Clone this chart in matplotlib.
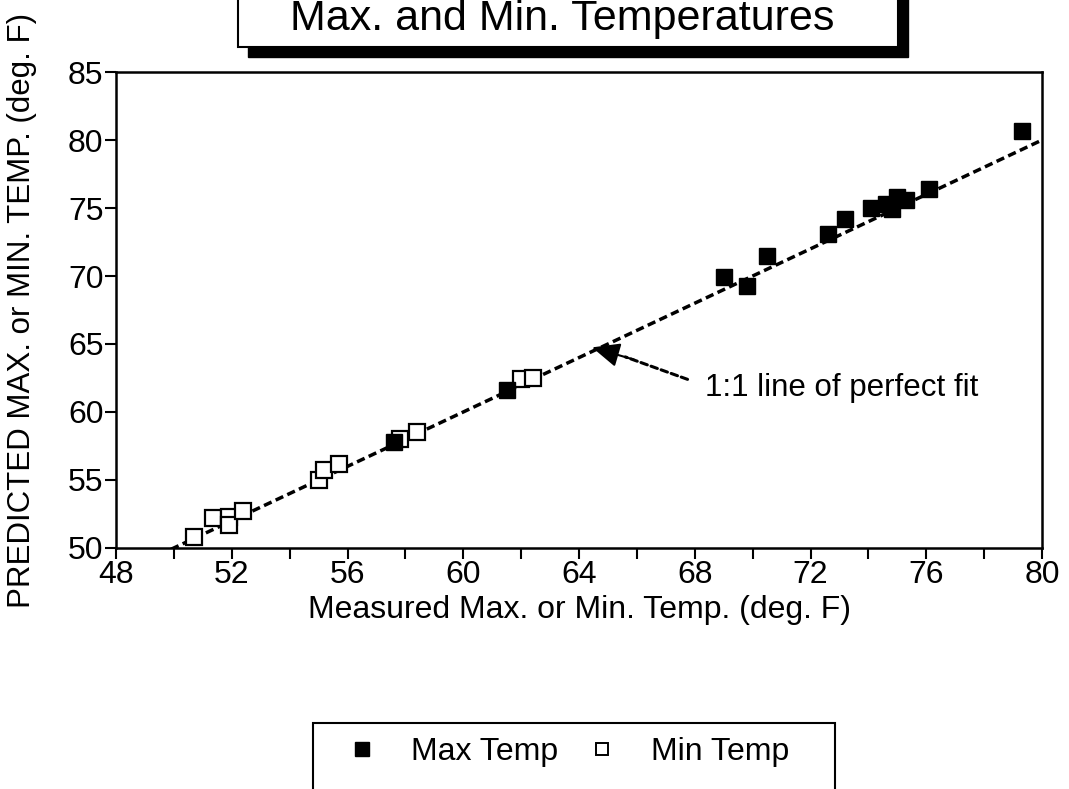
import matplotlib
matplotlib.use("Agg")
import matplotlib.pyplot as plt
from matplotlib.lines import Line2D
from matplotlib.patches import Rectangle

plt.rcParams['font.family'] = ['Liberation Sans', 'DejaVu Sans']

# Measured vs predicted (deg F)
max_measured = [57.6, 61.5, 69.0, 69.8, 70.5, 72.6, 73.2, 74.1, 74.6, 74.8, 75.0, 75.3, 76.1, 79.3]
max_predicted = [57.8, 61.6, 69.9, 69.3, 71.5, 73.1, 74.2, 75.0, 75.3, 74.9, 75.8, 75.6, 76.4, 80.7]

min_measured = [50.7, 51.35, 51.9, 51.9, 52.4, 55.0, 55.2, 55.7, 57.8, 58.4, 62.0, 62.4]
min_predicted = [50.8, 52.2, 52.3, 51.7, 52.7, 55.0, 55.7, 56.2, 58.0, 58.5, 62.4, 62.5]

perfect_fit = [49.5, 80.0]

x_ticks = [48, 52, 56, 60, 64, 68, 72, 76, 80]
y_ticks = [50, 55, 60, 65, 70, 75, 80, 85]

fig = plt.figure(figsize=(10.69, 7.89), dpi=100)
ax = fig.add_axes([0.1085, 0.3055, 0.8663, 0.6032])

# 1:1 line
ax.plot(perfect_fit, perfect_fit, color='black', lw=2.5, linestyle=(0, (2.4, 1.3)), zorder=2)

ax.plot(min_measured, min_predicted, 's', ms=11, mfc='white', mec='black', mew=1.6,
        linestyle='none', zorder=3)
ax.plot(max_measured, max_predicted, 's', ms=11.5, mfc='black', mec='black',
        linestyle='none', zorder=4)

# label + dashed pointer with a solid head
ax.text(68.35, 61.75, '1:1 line of perfect fit', fontsize=22.5, va='center', ha='left')
ax.annotate('', xy=(65.6, 64.05), xytext=(67.75, 62.4),
            arrowprops=dict(arrowstyle='-', color='black', lw=2.2,
                            linestyle=(0, (2.2, 1.3)), shrinkA=0, shrinkB=0))
ax.annotate('', xy=(64.45, 64.75), xytext=(65.9, 63.85),
            arrowprops=dict(arrowstyle='-|>,head_length=1.7,head_width=0.75',
                            color='black', lw=1.5, shrinkA=0, shrinkB=0))

ax.set_xlim(48, 80)
ax.set_ylim(50, 85)
ax.set_xticks(x_ticks)
ax.set_xticks(range(48, 81, 2), minor=True)
ax.set_yticks(y_ticks)
ax.tick_params(axis='both', which='both', direction='out', length=8, width=1.5,
               labelsize=23, color='black')
ax.tick_params(axis='x', pad=1)
ax.tick_params(axis='y', pad=1)
for s in ax.spines.values():
    s.set_linewidth(1.8)

ax.set_xlabel('Measured Max. or Min. Temp. (deg. F)', fontsize=23, labelpad=3)
ax.set_ylabel('PREDICTED MAX. or MIN. TEMP. (deg. F)', fontsize=22.5, labelpad=22)

# title box with drop shadow
fig.patches.append(Rectangle((248 / 1069, 1 - 57 / 789), 0.6174, 0.2, transform=fig.transFigure,
                             facecolor='black', edgecolor='black', zorder=1))
fig.patches.append(Rectangle((238 / 1069, 1 - 47 / 789), 0.6174, 0.2, transform=fig.transFigure,
                             facecolor='white', edgecolor='black', lw=1.5, zorder=2))
fig.text(0.526, 1 - 30 / 789, 'Max. and Min. Temperatures', fontsize=31,
         ha='center', va='baseline', zorder=3)

# legend box (bottom cut off as in the scan)
fig.patches.append(Rectangle((313 / 1069, -0.05), 522 / 1069, 0.05 + (789 - 723) / 789,
                             transform=fig.transFigure, facecolor='white',
                             edgecolor='black', lw=1.5))
handles = [Line2D([], [], marker='s', ms=9.5, mfc='black', mec='black', linestyle='none'),
           Line2D([], [], marker='s', ms=8.5, mfc='white', mec='black', mew=1.4, linestyle='none')]
fig.legend(handles, ['Max Temp', 'Min Temp'], ncol=2, frameon=False, fontsize=23,
           loc='center', bbox_to_anchor=(568 / 1069, 1 - 752 / 789),
           handlelength=1.0, handletextpad=1.03, columnspacing=0.88)

fig.savefig('out.png', dpi=100)
